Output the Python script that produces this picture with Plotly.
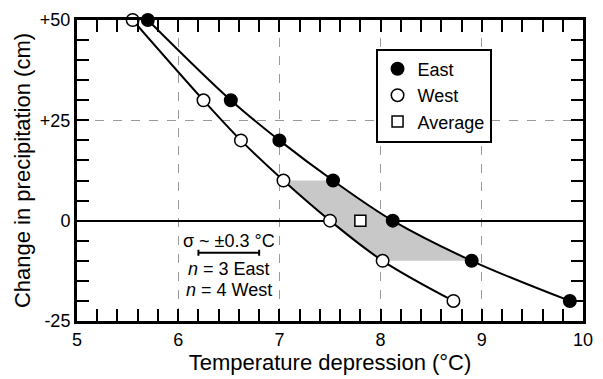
import plotly.graph_objects as go

# Data
precip = [50, 30, 20, 10, 0, -10, -20]
east_t = [5.70, 6.52, 7.00, 7.53, 8.12, 8.90, 9.87]
west_t = [5.55, 6.25, 6.62, 7.04, 7.50, 8.02, 8.72]
avg_t = [7.8]
avg_p = [0]

# shaded band: between West and East curves for precip in [-10, +10]
band_idx = [3, 4, 5]
sigma_center = 6.5
sigma_y = -8
sigma = 0.3

FONT = "Liberation Sans, Arial, sans-serif"

band_x = [west_t[i] for i in band_idx] + [east_t[i] for i in reversed(band_idx)]
band_y = [precip[i] for i in band_idx] + [precip[i] for i in reversed(band_idx)]

fig = go.Figure()
fig.add_trace(go.Scatter(x=band_x, y=band_y, fill="toself", fillcolor="#c8c8c8",
                         line=dict(width=0), mode="lines", showlegend=False, hoverinfo="skip"))
fig.add_trace(go.Scatter(x=east_t, y=precip, mode="lines", line=dict(color="black", width=2, shape="spline", smoothing=1.0),
                         showlegend=False))
fig.add_trace(go.Scatter(x=west_t, y=precip, mode="lines", line=dict(color="black", width=2, shape="spline", smoothing=1.0),
                         showlegend=False))
fig.add_trace(go.Scatter(x=east_t, y=precip, mode="markers", name="East",
                         marker=dict(symbol="circle", size=12.5, color="black", line=dict(color="black", width=1.5)),
                         cliponaxis=False))
fig.add_trace(go.Scatter(x=west_t, y=precip, mode="markers", name="West",
                         marker=dict(symbol="circle", size=12.5, color="white", line=dict(color="black", width=1.5)),
                         cliponaxis=False))
fig.add_trace(go.Scatter(x=avg_t, y=avg_p, mode="markers", name="Average",
                         marker=dict(symbol="square", size=11, color="white", line=dict(color="black", width=1.5))))
# sigma scale bar
fig.add_trace(go.Scatter(x=[sigma_center], y=[sigma_y], mode="markers", showlegend=False,
                         marker=dict(size=1, color="rgba(0,0,0,0)"),
                         error_x=dict(type="data", array=[sigma], color="black", thickness=2, width=3)))

fig.add_annotation(x=sigma_center, y=-5.0, text="σ ~ ±0.3 °C", showarrow=False,
                   font=dict(size=18, color="black", family=FONT))
fig.add_annotation(x=sigma_center, y=-12.0, text="<i>n</i> = 3 East", showarrow=False,
                   font=dict(size=18, color="black", family=FONT))
fig.add_annotation(x=sigma_center, y=-17.3, text="<i>n</i> = 4 West", showarrow=False,
                   font=dict(size=18, color="black", family=FONT))

axis_common = dict(
    showline=True, linecolor="black", linewidth=3, mirror="allticks",
    ticks="inside", ticklen=12, tickwidth=2, tickcolor="black",
    showgrid=True, gridcolor="#9a9a9a", gridwidth=1, griddash="dash",
    tickfont=dict(size=18, color="black", family=FONT),
)

fig.update_xaxes(range=[5, 10], tickvals=[5, 6, 7, 8, 9, 10],
                 minor=dict(dtick=0.2, ticks="inside", ticklen=12, tickwidth=2, tickcolor="black", showgrid=False),
                 title=dict(text="Temperature depression (°C)", font=dict(size=22, color="black", family=FONT), standoff=4),
                 zeroline=False, **axis_common)
fig.update_yaxes(range=[-25, 50], tickvals=[-25, 0, 25, 50], ticktext=["-25", "0", "+25", "+50"],
                 minor=dict(dtick=5, ticks="inside", ticklen=12, tickwidth=2, tickcolor="black", showgrid=False),
                 title=dict(text="Change in precipitation (cm)", font=dict(size=22, color="black", family=FONT), standoff=4),
                 zeroline=True, zerolinecolor="black", zerolinewidth=2, **axis_common)

fig.update_layout(
    width=603, height=379,
    margin=dict(l=77, r=10, t=13, b=56),
    plot_bgcolor="white", paper_bgcolor="white",
    font=dict(family=FONT, color="black"),
    legend=dict(x=0.59, y=0.905, xanchor="left", yanchor="top", bgcolor="white",
                bordercolor="black", borderwidth=2, font=dict(size=18, color="black", family=FONT),
                tracegroupgap=0),
)

fig.write_html("out.html")
